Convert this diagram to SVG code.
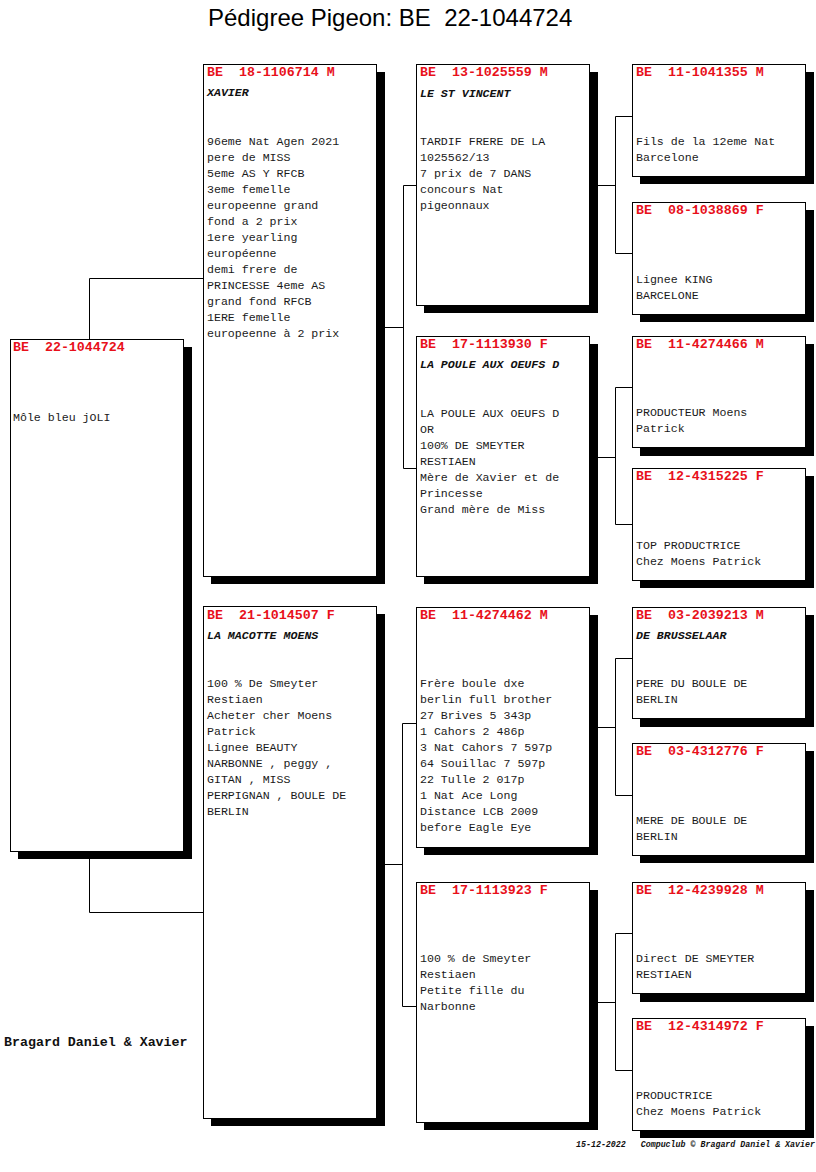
<svg xmlns="http://www.w3.org/2000/svg" width="816" height="1172" viewBox="0 0 816 1172">
<style>
.bg{fill:#ffffff}
.box{fill:#ffffff;stroke:#000000;stroke-width:1}
.sh{fill:#000000}
.con{fill:none;stroke:#000000;stroke-width:1}
.hd{font-family:"Liberation Mono","Courier New",monospace;font-size:13.3px;font-weight:bold;fill:#e8101a;white-space:pre}
.nm{font-family:"Liberation Mono","Courier New",monospace;font-size:11.6px;font-weight:bold;font-style:italic;fill:#111111;white-space:pre}
.bd{font-family:"Liberation Mono","Courier New",monospace;font-size:11.6px;fill:#1a1a1a;white-space:pre}
.title{font-family:"Liberation Sans",Arial,sans-serif;font-size:24px;fill:#000000;white-space:pre}
.owner{font-family:"Liberation Mono","Courier New",monospace;font-size:13.3px;font-weight:bold;fill:#111111}
.foot{font-family:"Liberation Mono","Courier New",monospace;font-size:8.3px;font-weight:bold;font-style:italic;fill:#111111;white-space:pre}
</style>
<rect class="bg" x="0" y="0" width="816" height="1172"/>
<text class="title" x="208" y="26">Pédigree Pigeon: BE  22-1044724</text>

<g id="connectors">
<path class="con" d="M89.5,339 V278.5 H203"/>
<path class="con" d="M89.5,851 V912.5 H203"/>
<path class="con" d="M377,327.5 H403.5"/>
<path class="con" d="M416,185.5 H403.5 V468.5 H416"/>
<path class="con" d="M377,864.5 H402.5"/>
<path class="con" d="M416,723.5 H402.5 V1006.5 H416"/>
<path class="con" d="M589,185.5 H615.5"/>
<path class="con" d="M632,116.5 H615.5 V253.5 H632"/>
<path class="con" d="M589,457.5 H615.5"/>
<path class="con" d="M632,387.5 H615.5 V524.5 H632"/>
<path class="con" d="M589,727.5 H615.5"/>
<path class="con" d="M632,658.5 H615.5 V795.5 H632"/>
<path class="con" d="M589,1002.5 H615.5"/>
<path class="con" d="M632,933.5 H615.5 V1070.5 H632"/>
</g>

<g id="n-subject">
<rect class="sh" x="18" y="347" width="174" height="512"/>
<rect class="box" x="10.5" y="339.5" width="173" height="512"/>
<text class="hd" x="13" y="351">BE  22-1044724</text>
<text class="bd" x="13" y="421">Môle bleu jOLI</text>
</g>

<g id="n-18-1106714">
<rect class="sh" x="211" y="72" width="174" height="512"/>
<rect class="box" x="203.5" y="64.5" width="173" height="512"/>
<text class="hd" x="207" y="76">BE  18-1106714 M</text>
<text class="nm" x="207" y="96">XAVIER</text>
<text class="bd" x="207" y="145"><tspan x="207" dy="0">96eme Nat Agen 2021</tspan><tspan x="207" dy="16">pere de MISS</tspan><tspan x="207" dy="16">5eme AS Y RFCB</tspan><tspan x="207" dy="16">3eme femelle</tspan><tspan x="207" dy="16">europeenne grand</tspan><tspan x="207" dy="16">fond a 2 prix</tspan><tspan x="207" dy="16">1ere yearling</tspan><tspan x="207" dy="16">européenne</tspan><tspan x="207" dy="16">demi frere de</tspan><tspan x="207" dy="16">PRINCESSE 4eme AS</tspan><tspan x="207" dy="16">grand fond RFCB</tspan><tspan x="207" dy="16">1ERE femelle</tspan><tspan x="207" dy="16">europeenne à 2 prix</tspan></text>
</g>

<g id="n-21-1014507">
<rect class="sh" x="211" y="614" width="174" height="512"/>
<rect class="box" x="203.5" y="606.5" width="173" height="512"/>
<text class="hd" x="207" y="619">BE  21-1014507 F</text>
<text class="nm" x="207" y="639">LA MACOTTE MOENS</text>
<text class="bd" x="207" y="687"><tspan x="207" dy="0">100 % De Smeyter</tspan><tspan x="207" dy="16">Restiaen</tspan><tspan x="207" dy="16">Acheter cher Moens</tspan><tspan x="207" dy="16">Patrick</tspan><tspan x="207" dy="16">Lignee BEAUTY</tspan><tspan x="207" dy="16">NARBONNE , peggy ,</tspan><tspan x="207" dy="16">GITAN , MISS</tspan><tspan x="207" dy="16">PERPIGNAN , BOULE DE</tspan><tspan x="207" dy="16">BERLIN</tspan></text>
</g>

<g id="n-13-1025559">
<rect class="sh" x="424" y="72" width="174" height="241"/>
<rect class="box" x="416.5" y="64.5" width="173" height="241"/>
<text class="hd" x="420" y="76">BE  13-1025559 M</text>
<text class="nm" x="420" y="97">LE ST VINCENT</text>
<text class="bd" x="420" y="145"><tspan x="420" dy="0">TARDIF FRERE DE LA</tspan><tspan x="420" dy="16">1025562/13</tspan><tspan x="420" dy="16">7 prix de 7 DANS</tspan><tspan x="420" dy="16">concours Nat</tspan><tspan x="420" dy="16">pigeonnaux</tspan></text>
</g>

<g id="n-17-1113930">
<rect class="sh" x="424" y="344" width="174" height="240"/>
<rect class="box" x="416.5" y="336.5" width="173" height="240"/>
<text class="hd" x="420" y="348">BE  17-1113930 F</text>
<text class="nm" x="420" y="368">LA POULE AUX OEUFS D</text>
<text class="bd" x="420" y="417"><tspan x="420" dy="0">LA POULE AUX OEUFS D</tspan><tspan x="420" dy="16">OR</tspan><tspan x="420" dy="16">100% DE SMEYTER</tspan><tspan x="420" dy="16">RESTIAEN</tspan><tspan x="420" dy="16">Mère de Xavier et de</tspan><tspan x="420" dy="16">Princesse</tspan><tspan x="420" dy="16">Grand mère de Miss</tspan></text>
</g>

<g id="n-11-4274462">
<rect class="sh" x="424" y="615" width="174" height="240"/>
<rect class="box" x="416.5" y="607.5" width="173" height="240"/>
<text class="hd" x="420" y="619">BE  11-4274462 M</text>
<text class="bd" x="420" y="687"><tspan x="420" dy="0">Frère boule dxe</tspan><tspan x="420" dy="16">berlin full brother</tspan><tspan x="420" dy="16">27 Brives 5 343p</tspan><tspan x="420" dy="16">1 Cahors 2 486p</tspan><tspan x="420" dy="16">3 Nat Cahors 7 597p</tspan><tspan x="420" dy="16">64 Souillac 7 597p</tspan><tspan x="420" dy="16">22 Tulle 2 017p</tspan><tspan x="420" dy="16">1 Nat Ace Long</tspan><tspan x="420" dy="16">Distance LCB 2009</tspan><tspan x="420" dy="16">before Eagle Eye</tspan></text>
</g>

<g id="n-17-1113923">
<rect class="sh" x="424" y="890" width="174" height="240"/>
<rect class="box" x="416.5" y="882.5" width="173" height="240"/>
<text class="hd" x="420" y="894">BE  17-1113923 F</text>
<text class="bd" x="420" y="962"><tspan x="420" dy="0">100 % de Smeyter</tspan><tspan x="420" dy="16">Restiaen</tspan><tspan x="420" dy="16">Petite fille du</tspan><tspan x="420" dy="16">Narbonne</tspan></text>
</g>

<g id="n-11-1041355">
<rect class="sh" x="640" y="72" width="174" height="112"/>
<rect class="box" x="632.5" y="64.5" width="173" height="112"/>
<text class="hd" x="636" y="76">BE  11-1041355 M</text>
<text class="bd" x="636" y="145"><tspan x="636" dy="0">Fils de la 12eme Nat</tspan><tspan x="636" dy="16">Barcelone</tspan></text>
</g>

<g id="n-08-1038869">
<rect class="sh" x="640" y="210" width="174" height="112"/>
<rect class="box" x="632.5" y="202.5" width="173" height="112"/>
<text class="hd" x="636" y="214">BE  08-1038869 F</text>
<text class="bd" x="636" y="283"><tspan x="636" dy="0">Lignee KING</tspan><tspan x="636" dy="16">BARCELONE</tspan></text>
</g>

<g id="n-11-4274466">
<rect class="sh" x="640" y="344" width="174" height="112"/>
<rect class="box" x="632.5" y="336.5" width="173" height="111"/>
<text class="hd" x="636" y="348">BE  11-4274466 M</text>
<text class="bd" x="636" y="416"><tspan x="636" dy="0">PRODUCTEUR Moens</tspan><tspan x="636" dy="16">Patrick</tspan></text>
</g>

<g id="n-12-4315225">
<rect class="sh" x="640" y="476" width="174" height="112"/>
<rect class="box" x="632.5" y="468.5" width="173" height="112"/>
<text class="hd" x="636" y="480">BE  12-4315225 F</text>
<text class="bd" x="636" y="549"><tspan x="636" dy="0">TOP PRODUCTRICE</tspan><tspan x="636" dy="16">Chez Moens Patrick</tspan></text>
</g>

<g id="n-03-2039213">
<rect class="sh" x="640" y="615" width="174" height="112"/>
<rect class="box" x="632.5" y="607.5" width="173" height="111"/>
<text class="hd" x="636" y="619">BE  03-2039213 M</text>
<text class="nm" x="636" y="639">DE BRUSSELAAR</text>
<text class="bd" x="636" y="687"><tspan x="636" dy="0">PERE DU BOULE DE</tspan><tspan x="636" dy="16">BERLIN</tspan></text>
</g>

<g id="n-03-4312776">
<rect class="sh" x="640" y="751" width="174" height="112"/>
<rect class="box" x="632.5" y="743.5" width="173" height="112"/>
<text class="hd" x="636" y="755">BE  03-4312776 F</text>
<text class="bd" x="636" y="824"><tspan x="636" dy="0">MERE DE BOULE DE</tspan><tspan x="636" dy="16">BERLIN</tspan></text>
</g>

<g id="n-12-4239928">
<rect class="sh" x="640" y="890" width="174" height="112"/>
<rect class="box" x="632.5" y="882.5" width="173" height="111"/>
<text class="hd" x="636" y="894">BE  12-4239928 M</text>
<text class="bd" x="636" y="962"><tspan x="636" dy="0">Direct DE SMEYTER</tspan><tspan x="636" dy="16">RESTIAEN</tspan></text>
</g>

<g id="n-12-4314972">
<rect class="sh" x="640" y="1026" width="174" height="112"/>
<rect class="box" x="632.5" y="1018.5" width="173" height="112"/>
<text class="hd" x="636" y="1030">BE  12-4314972 F</text>
<text class="bd" x="636" y="1099"><tspan x="636" dy="0">PRODUCTRICE</tspan><tspan x="636" dy="16">Chez Moens Patrick</tspan></text>
</g>

<text class="owner" x="4" y="1046">Bragard Daniel &amp; Xavier</text>
<text class="foot" x="576" y="1147">15-12-2022   Compuclub © Bragard Daniel &amp; Xavier</text>
</svg>
